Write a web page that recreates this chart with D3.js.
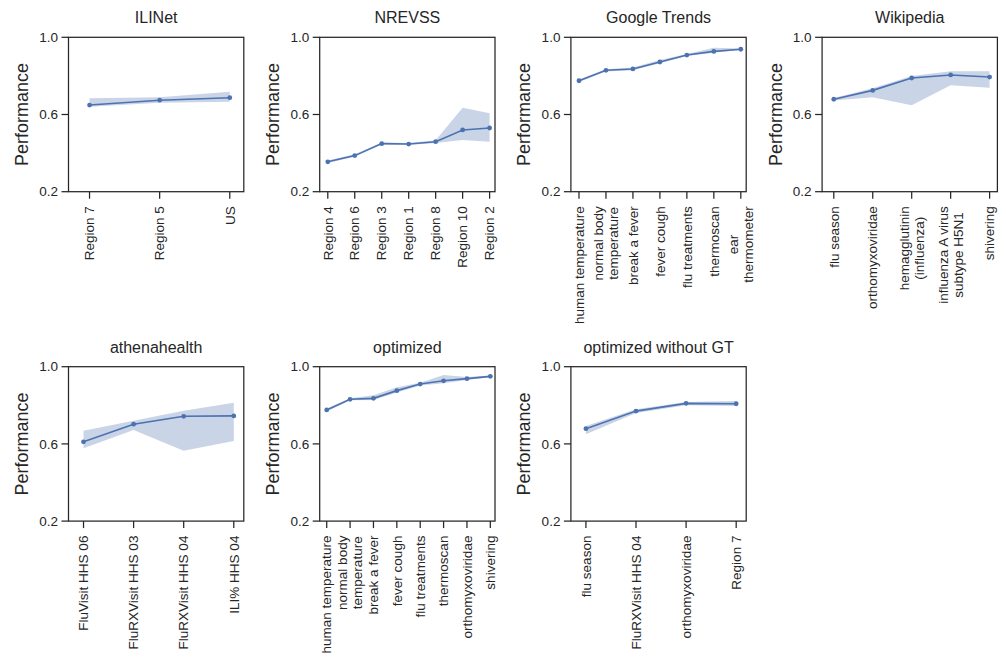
<!DOCTYPE html>
<html>
<head>
<meta charset="utf-8">
<script src="https://cdn.jsdelivr.net/npm/d3@7"></script>
<style>
  body { margin: 0; background: #fff; }
  text { font-family: "Liberation Sans", Arial, sans-serif; fill: #262626; }
</style>
</head>
<body>
<div id="vis"></div>
<script>
// Data: mean performance per added feature, with band
const ilinetLabels = ["Region 7", "Region 5", "US"];
const ilinetMean = [0.649, 0.674, 0.687];
const ilinetLow = [0.640, 0.661, 0.666];
const ilinetHigh = [0.684, 0.690, 0.718];

const nrevssLabels = ["Region 4", "Region 6", "Region 3", "Region 1", "Region 8", "Region 10", "Region 2"];
const nrevssMean = [0.355, 0.387, 0.449, 0.447, 0.459, 0.520, 0.530];
const nrevssLow = [0.349, 0.381, 0.444, 0.442, 0.452, 0.468, 0.459];
const nrevssHigh = [0.362, 0.394, 0.455, 0.452, 0.466, 0.635, 0.606];

const googleLabels = ["human temperature", "normal body\ntemperature", "break a fever", "fever cough", "flu treatments", "thermoscan", "ear\nthermometer"];
const googleMean = [0.775, 0.829, 0.836, 0.872, 0.908, 0.927, 0.938];
const googleLow = [0.768, 0.823, 0.829, 0.866, 0.903, 0.920, 0.934];
const googleHigh = [0.781, 0.834, 0.843, 0.882, 0.913, 0.946, 0.942];

const wikiLabels = ["flu season", "orthomyxoviridae", "hemagglutinin\n(influenza)", "influenza A virus\nsubtype H5N1", "shivering"];
const wikiMean = [0.679, 0.725, 0.789, 0.805, 0.794];
const wikiLow = [0.672, 0.689, 0.648, 0.751, 0.739];
const wikiHigh = [0.686, 0.736, 0.800, 0.824, 0.824];

const athenaLabels = ["FluVisit HHS 06", "FluRXVisit HHS 03", "FluRXVisit HHS 04", "ILI% HHS 04"];
const athenaMean = [0.611, 0.702, 0.743, 0.745];
const athenaLow = [0.577, 0.672, 0.565, 0.615];
const athenaHigh = [0.668, 0.720, 0.772, 0.813];

const optLabels = ["human temperature", "normal body\ntemperature", "break a fever", "fever cough", "flu treatments", "thermoscan", "orthomyxoviridae", "shivering"];
const optMean = [0.776, 0.831, 0.836, 0.876, 0.910, 0.927, 0.938, 0.950];
const optLow = [0.768, 0.826, 0.828, 0.866, 0.903, 0.914, 0.931, 0.945];
const optHigh = [0.784, 0.836, 0.852, 0.893, 0.917, 0.957, 0.947, 0.955];

const noGtLabels = ["flu season", "FluRXVisit HHS 04", "orthomyxoviridae", "Region 7"];
const noGtMean = [0.679, 0.770, 0.810, 0.808];
const noGtLow = [0.650, 0.760, 0.800, 0.796];
const noGtHigh = [0.693, 0.780, 0.817, 0.822];

const yTicks = [0.2, 0.6, 1.0];

const panels = [
    {title: "ILINet", labels: ilinetLabels, mean: ilinetMean, low: ilinetLow, high: ilinetHigh},
    {title: "NREVSS", labels: nrevssLabels, mean: nrevssMean, low: nrevssLow, high: nrevssHigh},
    {title: "Google Trends", labels: googleLabels, mean: googleMean, low: googleLow, high: googleHigh},
    {title: "Wikipedia", labels: wikiLabels, mean: wikiMean, low: wikiLow, high: wikiHigh},
    {title: "athenahealth", labels: athenaLabels, mean: athenaMean, low: athenaLow, high: athenaHigh},
    {title: "optimized", labels: optLabels, mean: optMean, low: optLow, high: optHigh},
    {title: "optimized without GT", labels: noGtLabels, mean: noGtMean, low: noGtLow, high: noGtHigh}
];

// canvas
const width = 1006;
const height = 660;
const blue = "#4c72b0";
const spine = "#262626";

const boxW = 175.3;
const boxH = 154.4;
const colX = [68.5, 319.7, 570.9, 822.1];
const rowY = [37.3, 366.7];

const svg = d3.select("#vis").append("svg")
    .attr("width", width)
    .attr("height", height);

panels.forEach((p, i) => {
    const col = i % 4, row = Math.floor(i / 4);
    const g = svg.append("g")
        .attr("transform", `translate(${colX[col]},${rowY[row]})`);

    const n = p.labels.length;
    // matplotlib-ish limits: a bit more room on the left than the right
    const x = d3.scaleLinear().domain([-0.3, n - 1 + 0.2]).range([0, boxW]);
    const y = d3.scaleLinear().domain([0.2, 1.0]).range([boxH, 0]);

    const idx = d3.range(n);

    // confidence band
    g.append("path")
        .attr("fill", blue)
        .attr("fill-opacity", 0.3)
        .attr("d", d3.area()
            .x(d => x(d))
            .y0(d => y(p.low[d]))
            .y1(d => y(p.high[d]))(idx));

    g.append("path")
        .attr("fill", "none")
        .attr("stroke", blue)
        .attr("stroke-width", 1.6)
        .attr("d", d3.line()
            .x(d => x(d))
            .y(d => y(p.mean[d]))(idx));

    g.selectAll(".dot")
        .data(idx)
        .join("circle")
        .attr("class", "dot")
        .attr("cx", d => x(d))
        .attr("cy", d => y(p.mean[d]))
        .attr("r", 2.4)
        .attr("fill", blue);

    // frame
    g.append("rect")
        .attr("width", boxW)
        .attr("height", boxH)
        .attr("fill", "none")
        .attr("stroke", spine)
        .attr("stroke-width", 1.25);

    // y axis
    yTicks.forEach(t => {
        g.append("line")
            .attr("x1", -7).attr("x2", 0)
            .attr("y1", y(t)).attr("y2", y(t))
            .attr("stroke", spine).attr("stroke-width", 1.25);
        g.append("text")
            .attr("x", -10.5)
            .attr("y", y(t))
            .attr("dy", "0.35em")
            .attr("text-anchor", "end")
            .attr("font-size", "13.5px")
            .text(t.toFixed(1));
    });

    // x axis ticks + rotated, possibly multi-line labels
    idx.forEach(d => {
        g.append("line")
            .attr("x1", x(d)).attr("x2", x(d))
            .attr("y1", boxH).attr("y2", boxH + 7)
            .attr("stroke", spine).attr("stroke-width", 1.25);

        const lines = p.labels[d].split("\n");
        const lg = g.append("g")
            .attr("transform", `translate(${x(d)},${boxH + 14.5}) rotate(-90)`);
        const texts = lines.map((s, k) => lg.append("text")
            .attr("y", (k - (lines.length - 1) / 2) * 15)
            .attr("dy", "0.35em")
            .attr("text-anchor", "middle")
            .attr("font-size", "13.5px")
            .text(s));
        const maxW = d3.max(texts, t => t.node().getComputedTextLength());
        texts.forEach(t => t.attr("x", -maxW / 2));
    });

    g.append("text")
        .attr("x", boxW / 2)
        .attr("y", -14)
        .attr("text-anchor", "middle")
        .attr("font-size", "16px")
        .text(p.title);

    g.append("text")
        .attr("transform", `translate(-40.5,${boxH / 2}) rotate(-90)`)
        .attr("text-anchor", "middle")
        .attr("font-size", "18px")
        .text("Performance");
});
</script>
</body>
</html>
